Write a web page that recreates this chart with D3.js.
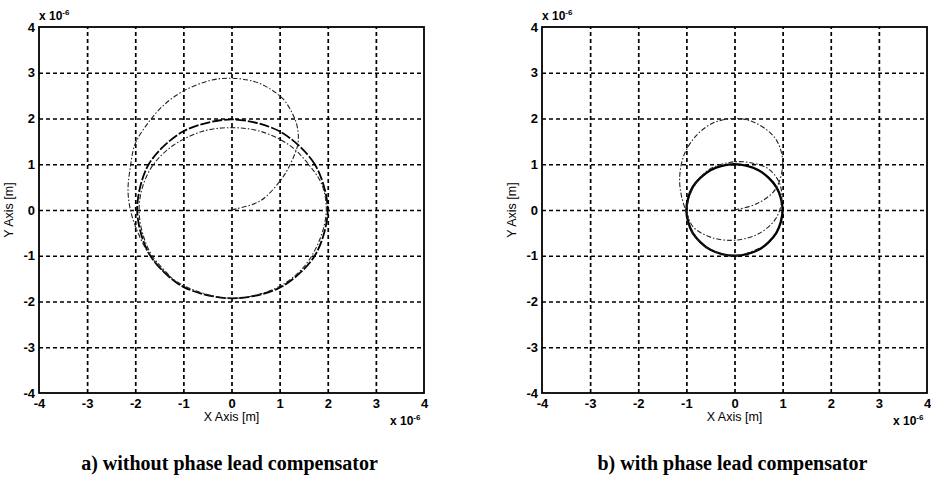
<!DOCTYPE html>
<html>
<head>
<meta charset="utf-8">
<script src="https://cdn.jsdelivr.net/npm/d3@7"></script>
<style>
  body { margin: 0; background: #fff; }
  text { fill: #000; }
</style>
</head>
<body>
<div id="chart"></div>
<script>
// axis ticks (both panels use the same range, units of 1e-6 m)
const ticks = [-4, -3, -2, -1, 0, 1, 2, 3, 4];

// panel a) reference circle
const refA = [[2,0],[1.73,1],[1,1.72],[0,1.98],[-1,1.72],[-1.72,1],[-1.96,0],[-1.7,-0.98],[-1,-1.68],[0,-1.93],[1,-1.7],[1.73,-1]];
// panel a) measured trajectory (spiral out of the origin, then onto the circle)
const respA = [[0,0],[0.12,0.03],[0.6,0.2],[1.02,0.65],[1.23,1.02],[1.38,1.45],[1.37,1.8],[1.27,2.1],[1.05,2.45],[0.55,2.78],[0,2.88],[-0.45,2.83],[-1.0,2.6],[-1.4,2.3],[-1.7,1.95],[-2.0,1.45],[-2.1,0.95],[-2.15,0.43],[-2.1,0.0],[-1.98,-0.4],[-1.75,-0.9],[-1.4,-1.35],[-0.9,-1.7],[0,-1.93],[0.9,-1.72],[1.5,-1.25],[1.85,-0.6],[1.97,0],[1.88,0.55],[1.6,1.0],[1.2,1.42],[0.6,1.72],[0,1.8],[-0.6,1.72],[-1.2,1.42],[-1.62,1.0],[-1.85,0.5],[-1.92,0],[-1.85,-0.5],[-1.65,-1.0],[-1.3,-1.42]];

// panel b) reference circle
const refB = [[1,0],[0.87,0.5],[0.5,0.87],[0,1],[-0.5,0.87],[-0.87,0.5],[-1,0],[-0.87,-0.5],[-0.5,-0.87],[0,-1],[0.5,-0.87],[0.87,-0.5]];
// panel b) measured trajectory
const respB = [[0,0],[0.47,0.14],[0.85,0.45],[1.0,0.95],[0.95,1.35],[0.78,1.65],[0.4,1.92],[0,2.0],[-0.45,1.9],[-0.8,1.62],[-1.05,1.2],[-1.14,0.7],[-1.1,0.3],[-0.98,-0.1],[-0.85,-0.38],[-0.48,-0.6],[0,-0.66],[0.5,-0.52],[0.85,-0.2],[0.98,0.2],[0.93,0.6],[0.7,0.9],[0.3,1.04],[-0.1,1.04],[-0.55,0.87],[-0.85,0.5],[-0.98,0.1],[-0.95,-0.35],[-0.7,-0.72],[-0.3,-0.95],[0.1,-0.99],[0.55,-0.82]];

const captions = ["a) without phase lead compensator", "b) with phase lead compensator"];

const W = 931, H = 481;
const svg = d3.select("#chart").append("svg")
    .attr("width", W)
    .attr("height", H)
    .attr("viewBox", [0, 0, W, H]);

svg.append("rect").attr("width", W).attr("height", H).attr("fill", "#fff");

function panel(left, ref, resp, caption, refWidth, refDash) {
  const top = 27, w = 385, h = 366;
  const x = d3.scaleLinear().domain([-4, 4]).range([left, left + w]);
  const y = d3.scaleLinear().domain([-4, 4]).range([top + h, top]);
  const g = svg.append("g");

  // dotted grid
  g.append("g")
      .attr("transform", `translate(0,${top + h})`)
      .call(d3.axisBottom(x).tickValues(ticks.slice(1, -1)).tickSize(-h).tickFormat(""))
      .call(s => s.select(".domain").remove())
      .selectAll("line").attr("stroke", "#000").attr("stroke-width", 1.7).attr("stroke-dasharray", "4,3");
  g.append("g")
      .attr("transform", `translate(${left},0)`)
      .call(d3.axisLeft(y).tickValues(ticks.slice(1, -1)).tickSize(-w).tickFormat(""))
      .call(s => s.select(".domain").remove())
      .selectAll("line").attr("stroke", "#000").attr("stroke-width", 1.7).attr("stroke-dasharray", "4,3");

  // tick labels
  const xa = g.append("g")
      .attr("transform", `translate(0,${top + h})`)
      .call(d3.axisBottom(x).tickValues(ticks).tickSize(0).tickPadding(6).tickFormat(d => String(d)));
  const ya = g.append("g")
      .attr("transform", `translate(${left},0)`)
      .call(d3.axisLeft(y).tickValues(ticks).tickSize(0).tickPadding(4).tickFormat(d => String(d)));
  [xa, ya].forEach(a => {
    a.select(".domain").remove();
    a.selectAll("text").attr("font-family", "Liberation Sans, Arial, sans-serif")
      .attr("font-weight", "bold").attr("font-size", 13).attr("fill", "#000");
  });

  // curves
  const line = d3.line().x(d => x(d[0])).y(d => y(d[1]));
  g.append("path")
      .datum(ref)
      .attr("d", line.curve(d3.curveCardinalClosed.tension(0.1)))
      .attr("fill", "none").attr("stroke", "#000")
      .attr("stroke-width", refWidth).attr("stroke-dasharray", refDash);
  g.append("path")
      .datum(resp)
      .attr("d", line.curve(d3.curveCatmullRom))
      .attr("fill", "none").attr("stroke", "#222")
      .attr("stroke-width", 1.1).attr("stroke-dasharray", "5,2,1.5,2");

  // box
  g.append("rect")
      .attr("x", left).attr("y", top).attr("width", w).attr("height", h)
      .attr("fill", "none").attr("stroke", "#000").attr("stroke-width", 1.8);

  const font = "Liberation Sans, Arial, sans-serif";
  // exponent labels
  const e1 = g.append("text").attr("x", left).attr("y", top - 7)
      .attr("font-family", font).attr("font-size", 12).attr("font-weight", "bold");
  e1.append("tspan").text("x 10");
  e1.append("tspan").attr("dy", -5).attr("font-size", 8).text("-6");
  const e2 = g.append("text").attr("x", left + w - 34).attr("y", top + h + 32)
      .attr("font-family", font).attr("font-size", 12).attr("font-weight", "bold");
  e2.append("tspan").text("x 10");
  e2.append("tspan").attr("dy", -5).attr("font-size", 8).text("-6");

  // axis titles
  g.append("text")
      .attr("x", x(0)).attr("y", top + h + 28)
      .attr("text-anchor", "middle")
      .attr("font-family", font).attr("font-size", 12.5)
      .text("X Axis [m]");
  g.append("text")
      .attr("transform", `translate(${left - 26},${y(0)}) rotate(-90)`)
      .attr("text-anchor", "middle")
      .attr("font-family", font).attr("font-size", 12.5)
      .text("Y Axis [m]");

  // caption
  g.append("text")
      .attr("x", x(0) - 2).attr("y", 470)
      .attr("text-anchor", "middle")
      .attr("font-family", "Liberation Serif, Times New Roman, serif")
      .attr("font-weight", "bold").attr("font-size", 20)
      .text(caption);
}

panel(39, refA, respA, captions[0], 1.8, "10,2");
panel(542, refB, respB, captions[1], 2.4, null);
</script>
</body>
</html>
